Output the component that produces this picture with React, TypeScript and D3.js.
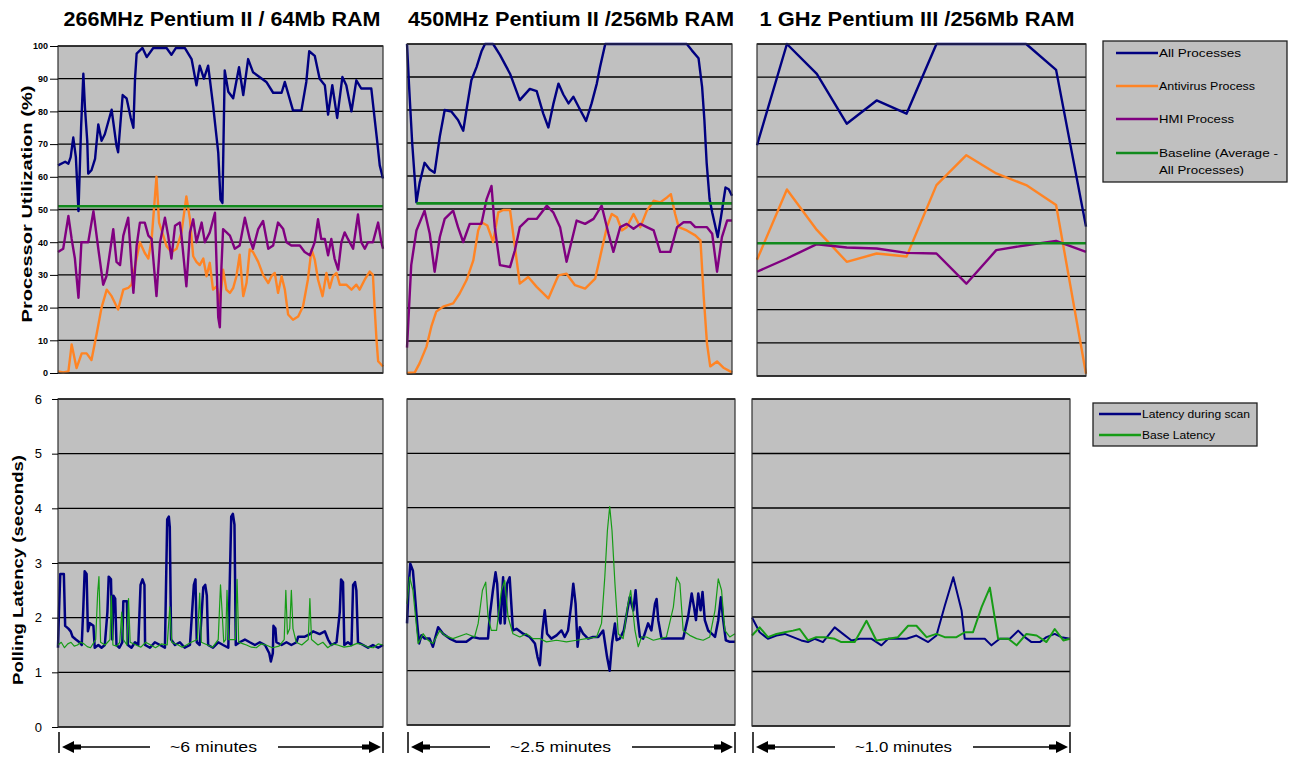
import React, { useEffect, useRef } from "react";
import * as d3 from "d3";

type Pt = [number, number];

// ---------------- labels ----------------
const cpuTitles = ["266MHz Pentium II / 64Mb RAM", "450MHz Pentium II /256Mb RAM", "1 GHz Pentium III /256Mb RAM"];
const durations = ["~6 minutes", "~2.5 minutes", "~1.0 minutes"];
const utilTicks = [0, 10, 20, 30, 40, 50, 60, 70, 80, 90, 100];
const latencyTicks = [0, 1, 2, 3, 4, 5, 6];
const utilSeries = ["All Processes", "Antivirus Process", "HMI Process", "Baseline (Average -", "All Processes)"];
const latencySeries = ["Latency during scan", "Base Latency"];

// ---------------- processor utilization (%), x = % of run elapsed ----------------
const p266All: Pt[] = [[0,63.5],[2.2,64.6],[3.2,64],[3.9,66],[4.7,72],[5.5,66],[6.3,49.5],[7.1,75],[7.8,91.5],[8.3,81],[9.0,71],[9.3,61],[10.3,62],[11.4,65.5],[12.4,76],[13.4,71],[14.4,73],[16.5,80.5],[18.0,69.5],[18.5,67.5],[19.9,85],[21.1,84],[22.4,78],[23.2,75],[23.7,90],[24.2,97.7],[26.0,99.4],[27.3,96.6],[29.3,99.4],[33.4,99.4],[34.9,97.3],[36.3,99.4],[39.0,99.4],[41.1,96],[42.6,88],[43.6,94],[44.9,90],[46.2,94],[47.7,82],[49.3,67.5],[50.0,53],[50.6,52],[51.3,92.5],[52.4,86],[53.9,84],[55.7,93.5],[57.0,85],[58.5,96],[60.0,92],[64.1,89],[66.2,85.7],[68.8,85.7],[69.8,89],[72.3,80.3],[74.9,80.3],[76.4,89],[77.3,98.4],[79.0,97],[80.5,90],[82.1,88],[83.1,79],[84.4,88],[85.9,78],[87.5,90.5],[88.7,88],[90.3,80],[91.8,89.5],[93.3,87],[96.4,87],[97.4,78],[98.2,71],[99.0,63.5],[100,59.5]];
const p266Av: Pt[] = [[0,0.5],[1.6,0.2],[3.2,0.5],[4.2,8.7],[5.7,1.5],[7.3,6],[8.8,6],[10.3,4],[11.9,12],[13.4,20],[15.0,25.5],[16.5,23.5],[18.5,19.4],[20.1,25.5],[21.6,26],[22.6,27],[23.7,32.7],[25.2,40],[26.7,36.7],[27.8,35],[28.8,40.8],[30.3,60],[31.1,46],[32.4,42],[33.4,38.8],[34.9,37],[36.5,38],[38.0,43],[39.5,54],[40.6,47],[41.6,35.7],[42.6,34],[43.6,33],[44.7,35],[45.7,29.6],[46.7,33.7],[47.7,25.5],[48.8,26.5],[49.8,21.4],[50.8,31.6],[51.8,25.5],[52.9,24.5],[53.9,26],[54.9,29.6],[55.9,36.2],[57.0,23.5],[58.0,27.5],[59.0,37.8],[60.0,37],[61.6,34],[63.1,30],[64.7,27.5],[65.7,29.6],[66.7,30.6],[67.7,24.5],[68.8,29.6],[69.8,25.5],[70.8,17.9],[72.3,16.3],[73.9,17.3],[75.4,20.4],[76.9,28.6],[78.0,37.8],[79.0,34.7],[80.0,28.6],[81.4,23.5],[82.6,30.6],[83.6,26],[84.6,29.6],[85.7,30.6],[86.7,27],[88.7,27],[90.3,25.5],[91.8,27],[92.8,25.5],[94.4,28.6],[95.9,31],[96.9,30],[97.4,20.4],[98.0,10.2],[98.5,3.6],[100,2]];
const p266Hmi: Pt[] = [[0,37],[1.6,38],[3.2,48],[4.2,41],[5.2,35],[6.3,23],[7.2,40],[9.3,40],[10.9,49.5],[12.4,38],[13.9,27],[14.9,29.6],[17.0,44],[18.0,34],[19.1,33],[20.1,42],[21.6,47.5],[23.2,24.5],[24.2,39],[25.2,46],[26.7,46],[27.8,42],[28.8,41],[30.3,23.5],[31.4,40],[32.9,47.5],[33.9,42],[34.9,35],[36.0,45],[37.5,46],[38.0,42],[39.5,26.5],[40.6,43],[41.6,47],[42.6,40],[44.2,46],[45.2,40],[46.7,43],[48.3,49],[49.3,17],[49.8,14],[50.3,32.7],[50.8,44],[52.9,42],[54.4,38],[55.9,39],[57.5,47.5],[59.0,41],[60.0,38],[61.6,44],[63.1,46.5],[64.7,38],[66.2,39],[67.7,46],[69.3,44],[70.3,40],[71.8,39],[72.8,39],[74.4,39],[75.9,37],[77.5,36],[79.0,40],[80.0,47],[81.0,41],[82.1,41],[83.1,36],[84.1,41],[85.1,35],[86.2,31.6],[87.2,40],[88.2,43],[89.2,41],[90.8,38],[92.3,48.5],[93.3,40],[94.4,38],[95.4,40],[96.9,40],[98.5,46],[99.5,40],[100,38]];

const p450All: Pt[] = [[0,100],[0.6,88],[1.6,70],[2.9,52],[3.9,58],[5.4,64],[7.0,62],[8.5,61],[10.1,72],[11.6,80],[13.7,79.5],[15.7,77],[17.3,73.7],[18.3,80],[19.8,89],[21.4,93],[22.9,97.7],[24.0,100],[26.5,100],[28.6,96.7],[31.7,91],[34.7,83],[37.8,86.4],[39.9,85.7],[41.9,79],[43.5,74.7],[45.0,81.7],[46.6,88],[48.1,84.7],[49.7,82],[51.2,84],[53.3,80],[55.1,76.7],[56.8,82],[58.4,88],[59.4,93],[61.0,100],[86.1,100],[87.7,98],[89.7,95.7],[90.8,87],[91.5,77],[92.2,64],[93.1,53],[93.9,49],[95.6,41.5],[96.6,47.5],[98.0,56.5],[99.0,56],[100,54]];
const p450Av: Pt[] = [[0,0.3],[2.4,0.5],[3.9,3.3],[6.0,8.3],[7.5,14.4],[9.0,18.9],[11.1,20.4],[14.2,21.4],[16.2,24.4],[18.3,28.4],[20.4,34.4],[21.9,43.5],[22.9,46],[24.7,45],[26.5,40],[28.1,49],[29.6,49.7],[31.7,49.7],[33.2,38.5],[34.7,27.4],[37.3,29.4],[39.9,26.4],[43.5,22.9],[46.6,29.9],[49.1,30.4],[51.7,26.9],[54.8,25.9],[57.9,28.9],[59.4,35.4],[61.5,44.5],[63.0,48.5],[64.6,47.5],[66.1,43.5],[67.6,44.5],[69.7,48.5],[71.8,44.5],[73.8,49.5],[75.9,52.5],[77.9,52],[80.0,53.5],[81.2,54.5],[82.5,48.5],[83.6,44.5],[86.1,43.5],[88.7,42],[90.3,40.5],[91.3,23.4],[92.3,9.3],[93.3,2.3],[95.4,3.8],[97.5,1.8],[100,0.5]];
const p450Hmi: Pt[] = [[0,8],[1.3,33],[2.9,43.5],[5.4,49.5],[7.0,42.5],[8.5,31],[10.1,41.5],[11.6,47],[14.2,49.5],[15.7,44.5],[17.3,40],[19.3,45.5],[22.9,45.5],[24.5,53],[26.0,57],[27.0,44.5],[28.6,33],[31.7,32.4],[33.2,37.5],[34.7,44.5],[37.3,47],[39.9,47],[43.0,51],[45.0,49],[47.1,44.5],[49.1,34],[52.2,46.5],[54.8,45.5],[57.4,47],[59.9,51],[62.0,42.5],[63.5,37],[65.6,44.5],[67.6,45.5],[69.7,44],[71.8,45.5],[73.8,44.5],[75.9,43.5],[77.9,37],[81.0,37],[83.1,44.5],[85.1,46],[87.2,46],[88.7,44.5],[92.3,44.5],[93.9,42.5],[95.4,31],[96.9,41.5],[98.5,46.5],[100,46.5]];

// 1 GHz run: 12 evenly spaced samples
const p1000All = [69.5, 100, 91, 76, 83, 79, 100, 100, 100, 100, 92.2, 45];
const p1000Av = [35, 56.2, 44, 34.4, 36.9, 36, 57.5, 66.5, 61, 57.5, 51.5, 0.7];
const p1000Hmi = [31.4, 35.4, 39.7, 38.7, 38.4, 37.1, 36.9, 27.8, 37.9, 39.4, 40.7, 37.4];

const baselineUtil = [51, 51.7, 40];
const baselineFrom = [0, 2.9, 0];

// ---------------- polling latency (s), x = % of run elapsed ----------------
const l266Scan: Pt[] = [[0,1.45],[0.3,2.1],[0.7,2.8],[1.8,2.8],[2.2,1.85],[3.2,1.8],[3.9,1.75],[4.5,1.65],[5.5,1.6],[6.6,1.55],[7.3,1.5],[7.8,2.2],[8.2,2.85],[8.8,2.8],[9.2,1.75],[9.8,1.9],[10.9,1.85],[11.3,1.45],[12.4,1.5],[13.4,1.45],[14.4,1.5],[15.2,2.1],[15.6,2.75],[16.3,2.7],[16.7,1.6],[17.1,2.4],[17.6,2.35],[18.0,1.5],[18.9,1.45],[19.8,1.55],[20.1,2.3],[21.2,2.3],[21.5,1.5],[22.6,1.45],[23.7,1.55],[24.7,1.5],[25.4,2.6],[26.0,2.7],[26.6,2.6],[26.8,1.5],[28.3,1.45],[29.8,1.55],[31.4,1.5],[32.9,1.45],[33.6,3.8],[34.1,3.85],[34.4,3.65],[34.8,1.6],[36.0,1.5],[37.5,1.55],[39.0,1.45],[40.6,1.5],[41.8,2.6],[42.3,2.7],[42.7,1.55],[43.6,1.5],[44.7,2.55],[45.3,2.6],[45.8,2.4],[46.2,1.5],[47.7,1.45],[49.3,1.55],[50.8,1.5],[52.4,1.45],[53.3,3.85],[53.8,3.9],[54.3,3.7],[54.7,1.5],[55.9,1.55],[57.5,1.6],[59.0,1.55],[60.6,1.5],[62.1,1.55],[63.7,1.5],[65.0,1.35],[65.5,1.2],[66.1,1.35],[66.3,1.85],[66.9,1.8],[67.2,1.55],[68.8,1.5],[70.3,1.55],[71.8,1.5],[73.4,1.55],[73.9,1.65],[75.8,1.65],[77.5,1.7],[78.5,1.75],[80.5,1.7],[82.1,1.75],[83.1,1.6],[84.1,1.5],[85.7,1.55],[86.7,2.1],[87.1,2.7],[87.7,2.65],[88.1,1.5],[89.2,1.55],[90.3,1.5],[90.8,2.6],[91.4,2.65],[91.8,2.5],[92.3,1.55],[93.9,1.5],[95.4,1.45],[96.9,1.5],[98.5,1.45],[100,1.5]];
const l266Base: Pt[] = [[0,1.5],[1,1.55],[2,1.45],[3,1.52],[4,1.55],[5,1.48],[6,1.5],[7,1.55],[8,1.52],[9,1.47],[10,1.45],[11.6,1.6],[12.2,2.45],[12.6,2.75],[13.1,1.55],[14.5,1.5],[16.0,1.6],[16.4,2.4],[16.9,1.5],[18,1.48],[19.0,1.55],[19.6,2.1],[20.1,1.6],[21.2,1.5],[21.7,2.35],[22.2,1.55],[24,1.5],[25.5,1.46],[27,1.55],[28.5,1.5],[30,1.45],[31.8,1.52],[33.6,1.5],[34.4,2.2],[35.0,1.55],[37,1.5],[38.2,1.46],[39.5,1.5],[41.0,1.55],[42.9,1.6],[43.6,2.45],[44.1,1.55],[46,1.5],[47.6,1.46],[49.3,1.6],[50.0,2.6],[50.5,2.1],[51.0,1.55],[51.6,1.6],[52.0,2.5],[52.5,1.6],[54.6,1.6],[55.1,2.7],[55.6,1.55],[57,1.52],[58,1.5],[59.5,1.46],[61,1.45],[62.5,1.52],[64,1.5],[66,1.45],[68,1.48],[69.6,1.6],[70.1,2.5],[70.6,1.7],[71.3,1.8],[71.8,2.5],[72.3,1.8],[73.3,1.55],[75,1.5],[77.0,1.6],[77.5,2.35],[78.0,1.6],[80,1.5],[81.5,1.55],[83,1.45],[84.5,1.52],[86,1.5],[88,1.46],[90,1.48],[92,1.53],[94,1.5],[95.5,1.46],[97,1.45],[98.5,1.52],[100,1.5]];

const l450Scan: Pt[] = [[0,1.87],[0.5,2.54],[1.0,2.97],[1.8,2.84],[2.3,2.48],[3.1,1.87],[3.7,1.5],[4.4,1.65],[5.4,1.59],[6.9,1.59],[7.9,1.44],[8.4,1.56],[9.5,1.8],[11.0,1.68],[13.0,1.59],[15.1,1.53],[18.1,1.53],[20.1,1.62],[22.2,1.59],[24.7,1.59],[25.2,1.99],[26.2,2.48],[27.0,2.81],[27.5,2.6],[28.0,1.99],[28.5,1.87],[29.3,2.72],[29.8,1.87],[30.5,2.6],[31.3,2.72],[31.8,2.23],[32.3,1.74],[33.4,1.77],[35.4,1.68],[37.4,1.62],[39.0,1.5],[39.8,1.25],[40.5,1.1],[41.3,1.74],[42.0,2.11],[42.7,1.68],[44.0,1.59],[45.6,1.65],[47.1,1.74],[48.1,1.62],[49.1,1.74],[50.1,2.23],[50.7,2.6],[51.4,2.23],[52.0,1.44],[52.7,1.8],[53.7,1.68],[55.2,1.59],[56.7,1.62],[58.3,1.62],[59.8,1.74],[61.0,1.25],[61.8,1.0],[62.5,1.5],[63.4,1.87],[63.9,1.56],[64.9,1.59],[66.1,1.74],[67.9,2.35],[69.0,2.11],[69.7,2.48],[70.3,1.99],[71.0,1.62],[72.0,1.59],[73.5,1.87],[74.5,1.74],[75.6,2.23],[76.1,2.32],[76.6,1.93],[77.6,1.59],[79.1,1.59],[82.2,1.59],[84.2,1.59],[85.7,1.99],[86.8,2.42],[87.5,2.17],[88.1,1.93],[88.8,2.42],[89.5,2.11],[90.1,2.45],[90.8,1.93],[91.8,1.74],[92.9,1.68],[93.9,1.62],[94.9,1.93],[95.7,2.35],[96.4,1.93],[97.2,1.56],[98.4,1.53],[100,1.53]];
const l450Base: Pt[] = [[0,2.23],[0.8,2.72],[1.8,2.48],[3.4,1.5],[4.9,1.68],[6.4,1.56],[7.9,1.5],[10.0,1.74],[11.5,1.65],[14.0,1.59],[18.1,1.68],[20.6,1.62],[21.7,1.87],[23.0,2.48],[24.0,2.63],[24.7,1.99],[25.7,1.74],[27.3,1.74],[28.8,2.48],[29.8,2.66],[30.8,1.99],[32.3,1.68],[34.4,1.62],[36.4,1.68],[38.4,1.59],[40.5,1.59],[42.5,1.53],[45.6,1.56],[48.6,1.53],[51.7,1.56],[54.7,1.59],[57.8,1.62],[59.3,1.87],[60.3,2.72],[61.1,3.58],[61.8,4.02],[62.5,3.58],[63.4,2.6],[64.4,1.68],[65.9,1.59],[67.2,2.17],[68.2,2.48],[69.5,1.74],[70.5,1.44],[71.5,1.62],[73.0,1.62],[75.1,1.56],[77.1,1.59],[79.1,1.62],[81.2,2.17],[82.2,2.72],[83.2,2.6],[84.2,1.74],[86.2,1.65],[88.3,1.59],[90.3,1.56],[92.3,1.62],[93.9,2.11],[94.9,2.69],[95.9,2.48],[96.9,1.74],[98.4,1.62],[100,1.68]];

const l1000Scan: Pt[] = [[0,1.99],[2.4,1.72],[5.0,1.6],[7.7,1.66],[10.3,1.69],[12.9,1.63],[15.5,1.57],[17.6,1.54],[19.7,1.6],[22.3,1.54],[26.0,1.81],[28.6,1.69],[31.3,1.57],[33.9,1.6],[37.6,1.6],[40.7,1.48],[42.8,1.6],[48.6,1.6],[51.7,1.66],[55.4,1.54],[58.0,1.66],[60.6,2.2],[63.3,2.73],[65.9,2.12],[66.9,1.6],[73.2,1.6],[75.3,1.48],[77.9,1.6],[81.1,1.6],[83.7,1.75],[85.8,1.63],[87.9,1.54],[90.5,1.54],[92.6,1.63],[95.2,1.69],[97.3,1.63],[100,1.6]];
const l1000Base: Pt[] = [[0,1.66],[2.4,1.81],[5.0,1.63],[7.7,1.69],[10.3,1.72],[12.9,1.75],[15.0,1.78],[17.6,1.57],[20.2,1.63],[22.9,1.63],[26.0,1.6],[28.1,1.54],[32.3,1.54],[36.0,1.93],[39.1,1.57],[42.8,1.6],[45.9,1.63],[49.1,1.84],[51.7,1.84],[54.9,1.63],[58.0,1.69],[60.6,1.63],[64.3,1.63],[66.9,1.72],[69.5,1.72],[72.2,2.18],[74.8,2.54],[77.4,1.6],[80.6,1.6],[83.2,1.48],[86.3,1.69],[89.5,1.66],[92.6,1.54],[95.2,1.78],[97.9,1.57],[100,1.6]];

// ---------------- layout & style ----------------
const FONT = "'Liberation Sans', Arial, Helvetica, sans-serif";
const topBoxes = [
  { x0: 58, x1: 383, y0: 46, y1: 373 },
  { x0: 407, x1: 732, y0: 44, y1: 374 },
  { x0: 757, x1: 1086, y0: 44, y1: 376 },
];
const botBoxes = [
  { x0: 58, x1: 383, y0: 399, y1: 727 },
  { x0: 407, x1: 735, y0: 399, y1: 725 },
  { x0: 752, x1: 1070, y0: 399, y1: 726 },
];
const titleLayout = [{ cx: 222, len: 317 }, { cx: 571, len: 326 }, { cx: 917, len: 315 }];
const durLayout = [{ cx: 213.5, len: 87 }, { cx: 560.5, len: 101 }, { cx: 903.5, len: 97 }];
const C = { all: "#000080", av: "#ff8424", hmi: "#800080", base: "#118a1d", scan: "#000080", baseLat: "#169c16", plot: "#c0c0c0" };

const evenly = (vals: number[]): Pt[] => vals.map((v, i) => [(i / (vals.length - 1)) * 100, v]);

export default function App() {
  const ref = useRef<SVGSVGElement>(null);

  useEffect(() => {
    const svg = d3.select(ref.current);
    svg.selectAll("*").remove();
    svg.append("rect").attr("width", 1293).attr("height", 761).attr("fill", "#fff");

    const drawPanel = (box, yMax, ticks, series, axis) => {
      const x = d3.scaleLinear().domain([0, 100]).range([box.x0, box.x1]);
      const y = d3.scaleLinear().domain([0, yMax]).range([box.y1, box.y0]);
      const g = svg.append("g");
      g.append("rect")
        .attr("x", box.x0).attr("y", box.y0)
        .attr("width", box.x1 - box.x0).attr("height", box.y1 - box.y0)
        .attr("fill", C.plot);
      g.selectAll("line.grid").data(ticks).enter().append("line")
        .attr("x1", box.x0).attr("x2", box.x1)
        .attr("y1", d => y(d)).attr("y2", d => y(d))
        .attr("stroke", "#000").attr("stroke-width", 1.3);
      const line = d3.line<Pt>().x(d => x(d[0])).y(d => y(d[1]));
      series.forEach(s => {
        g.append("path").attr("d", line(s.data)).attr("fill", "none")
          .attr("stroke", s.color).attr("stroke-width", s.width)
          .attr("stroke-linejoin", "round");
      });
      g.append("rect")
        .attr("x", box.x0).attr("y", box.y0)
        .attr("width", box.x1 - box.x0).attr("height", box.y1 - box.y0)
        .attr("fill", "none").attr("stroke", "#303030").attr("stroke-width", 1.2);
      if (axis) {
        const ax = g.append("g")
          .attr("transform", `translate(${box.x0},0)`)
          .call(d3.axisLeft(y).tickValues(ticks).tickSize(axis.size).tickPadding(axis.pad).tickFormat(d3.format("d")));
        ax.select(".domain").remove();
        ax.selectAll("line").attr("stroke", "#000");
        ax.selectAll("text")
          .attr("font-family", FONT).attr("font-size", axis.font)
          .attr("font-weight", axis.weight).attr("fill", "#000");
      }
    };

    const utilData = [
      [p266All, p266Av, p266Hmi],
      [p450All, p450Av, p450Hmi],
      [evenly(p1000All), evenly(p1000Av), evenly(p1000Hmi)],
    ];
    utilData.forEach((d, i) => {
      const base: Pt[] = [[baselineFrom[i], baselineUtil[i]], [100, baselineUtil[i]]];
      drawPanel(topBoxes[i], 100, utilTicks, [
        { data: d[0], color: C.all, width: 2.4 },
        { data: d[1], color: C.av, width: 2.4 },
        { data: d[2], color: C.hmi, width: 2.4 },
        { data: base, color: C.base, width: 2.6 },
      ], i === 0 ? { size: 8, pad: 2, font: 9, weight: "bold" } : null);
    });

    const latData = [[l266Scan, l266Base], [l450Scan, l450Base], [l1000Scan, l1000Base]];
    latData.forEach((d, i) => {
      drawPanel(botBoxes[i], 6, latencyTicks, [
        { data: d[0], color: C.scan, width: i === 2 ? 2 : 2.5 },
        { data: d[1], color: C.baseLat, width: i === 2 ? 2 : 1.2 },
      ], i === 0 ? { size: 6, pad: 10, font: 13, weight: "normal" } : null);
    });

    // panel titles
    cpuTitles.forEach((t, i) => {
      svg.append("text").text(t)
        .attr("x", titleLayout[i].cx).attr("y", 26)
        .attr("text-anchor", "middle")
        .attr("font-family", FONT).attr("font-size", 20).attr("font-weight", "bold")
        .attr("textLength", titleLayout[i].len).attr("lengthAdjust", "spacingAndGlyphs");
    });

    // axis titles
    svg.append("text").text("Processor Utilization (%)")
      .attr("transform", "translate(32,204) rotate(-90)")
      .attr("text-anchor", "middle").attr("font-family", FONT)
      .attr("font-size", 15).attr("font-weight", "bold")
      .attr("textLength", 237).attr("lengthAdjust", "spacingAndGlyphs");
    svg.append("text").text("Polling Latency (seconds)")
      .attr("transform", "translate(23,570) rotate(-90)")
      .attr("text-anchor", "middle").attr("font-family", FONT)
      .attr("font-size", 15).attr("font-weight", "bold")
      .attr("textLength", 230).attr("lengthAdjust", "spacingAndGlyphs");

    // duration arrows
    const ay = 747;
    durations.forEach((t, i) => {
      const b = botBoxes[i];
      const L = durLayout[i];
      const g = svg.append("g").attr("fill", "#000").attr("stroke", "#000");
      g.append("line").attr("x1", b.x0 + 1).attr("x2", b.x0 + 1).attr("y1", 732).attr("y2", 753).attr("stroke-width", 1.5);
      g.append("line").attr("x1", b.x1).attr("x2", b.x1).attr("y1", 732).attr("y2", 753).attr("stroke-width", 1.5);
      g.append("line").attr("x1", b.x0 + 20).attr("x2", L.cx - L.len / 2 - 20).attr("y1", ay).attr("y2", ay).attr("stroke-width", 1.5);
      g.append("line").attr("x1", L.cx + L.len / 2 + 21).attr("x2", b.x1 - 18).attr("y1", ay).attr("y2", ay).attr("stroke-width", 1.5);
      const lt = b.x0 + 4, rt = b.x1 - 2;
      g.append("polygon").attr("stroke", "none").attr("points",
        `${lt},${ay} ${lt + 12},${ay - 6} ${lt + 12},${ay - 2.5} ${lt + 19},${ay - 2.5} ${lt + 19},${ay + 2.5} ${lt + 12},${ay + 2.5} ${lt + 12},${ay + 6}`);
      g.append("polygon").attr("stroke", "none").attr("points",
        `${rt},${ay} ${rt - 12},${ay - 6} ${rt - 12},${ay - 2.5} ${rt - 19},${ay - 2.5} ${rt - 19},${ay + 2.5} ${rt - 12},${ay + 2.5} ${rt - 12},${ay + 6}`);
      svg.append("text").text(t)
        .attr("x", L.cx).attr("y", ay + 5).attr("text-anchor", "middle")
        .attr("font-family", FONT).attr("font-size", 15)
        .attr("textLength", L.len).attr("lengthAdjust", "spacingAndGlyphs");
    });

    // legends
    const legend = (x, y, w, h, items) => {
      const g = svg.append("g");
      g.append("rect").attr("x", x).attr("y", y).attr("width", w).attr("height", h)
        .attr("fill", C.plot).attr("stroke", "#202020").attr("stroke-width", 1.3);
      items.forEach(it => {
        if (it.color) {
          g.append("line").attr("x1", it.lx0).attr("x2", it.lx1).attr("y1", it.y).attr("y2", it.y)
            .attr("stroke", it.color).attr("stroke-width", 2.5);
        }
        g.append("text").text(it.label).attr("x", it.tx).attr("y", it.y + 4)
          .attr("font-family", FONT).attr("font-size", 11)
          .attr("textLength", it.len).attr("lengthAdjust", "spacingAndGlyphs");
      });
    };
    const utilColors = [C.all, C.av, C.hmi, C.base, null];
    const utilY = [53, 86, 119, 153, 170];
    const utilLen = [82, 96, 75, 119, 85];
    legend(1103, 41, 184, 141, utilSeries.map((label, i) => ({
      label, color: utilColors[i], y: utilY[i], lx0: 1116, lx1: 1158, tx: 1159, len: utilLen[i],
    })));
    const latColors = [C.scan, C.baseLat];
    const latY = [414, 435];
    const latLen = [108, 73];
    legend(1093, 403, 164, 43, latencySeries.map((label, i) => ({
      label, color: latColors[i], y: latY[i], lx0: 1099, lx1: 1141, tx: 1142, len: latLen[i],
    })));
  }, []);

  return (
    <div style={{ position: "absolute", left: 0, top: 0 }}>
      <svg ref={ref} width={1293} height={761} style={{ display: "block" }} />
    </div>
  );
}
